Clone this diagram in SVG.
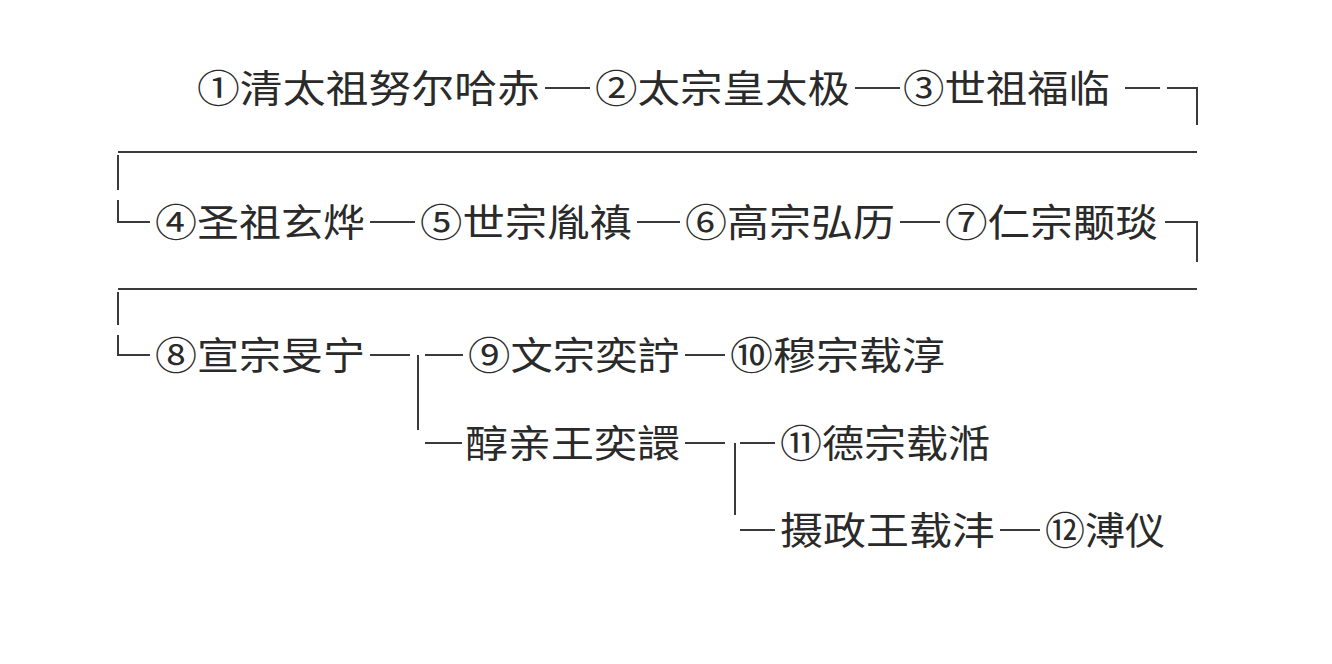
<svg xmlns="http://www.w3.org/2000/svg" width="1332" height="664" viewBox="0 0 1332 664">
<style>
text{font-family:"Noto Sans CJK SC","Noto Sans CJK JP",sans-serif;font-size:38px;fill:#2a2a2a}
.c line,.c path{stroke:#3a3a3a;stroke-width:2;fill:none}
</style>
<rect width="1332" height="664" fill="#fff"/>
<g id="n1"><text x="197" y="102" textLength="343" lengthAdjust="spacingAndGlyphs">①清太祖努尔哈赤</text></g>
<g id="n2"><text x="595" y="102" textLength="255" lengthAdjust="spacingAndGlyphs">②太宗皇太极</text></g>
<g id="n3"><text x="903" y="102" textLength="207" lengthAdjust="spacingAndGlyphs">③世祖福临</text></g>
<g id="n4"><text x="155" y="236" textLength="210" lengthAdjust="spacingAndGlyphs">④圣祖玄烨</text></g>
<g id="n5"><text x="420" y="236" textLength="212" lengthAdjust="spacingAndGlyphs">⑤世宗胤禛</text></g>
<g id="n6"><text x="685" y="236" textLength="210" lengthAdjust="spacingAndGlyphs">⑥高宗弘历</text></g>
<g id="n7"><text x="945" y="236" textLength="213" lengthAdjust="spacingAndGlyphs">⑦仁宗颙琰</text></g>
<g id="n8"><text x="155" y="369" textLength="210" lengthAdjust="spacingAndGlyphs">⑧宣宗旻宁</text></g>
<g id="n9"><text x="468" y="369" textLength="212" lengthAdjust="spacingAndGlyphs">⑨文宗奕詝</text></g>
<g id="n10"><text x="730" y="369" textLength="215" lengthAdjust="spacingAndGlyphs">⑩穆宗载淳</text></g>
<g id="n11"><text x="465" y="457" textLength="215" lengthAdjust="spacingAndGlyphs">醇亲王奕譞</text></g>
<g id="n12"><text x="780" y="457" textLength="210" lengthAdjust="spacingAndGlyphs">⑪德宗载湉</text></g>
<g id="n13"><text x="780" y="544" textLength="215" lengthAdjust="spacingAndGlyphs">摄政王载沣</text></g>
<g id="n14"><text x="1045" y="544" textLength="120" lengthAdjust="spacingAndGlyphs">⑫溥仪</text></g>
<g class="c" id="connectors">
<line x1="545" y1="88" x2="590" y2="88"/>
<line x1="855" y1="88" x2="900" y2="88"/>
<line x1="1125" y1="88" x2="1160" y2="88"/>
<path d="M1167 88H1197V125"/>
<line x1="118" y1="152" x2="1197" y2="152"/>
<line x1="118" y1="155" x2="118" y2="190"/>
<path d="M118 200V222H150"/>
<line x1="370" y1="222" x2="415" y2="222"/>
<line x1="637" y1="222" x2="680" y2="222"/>
<line x1="900" y1="222" x2="940" y2="222"/>
<path d="M1165 222H1197V262"/>
<line x1="118" y1="289" x2="1197" y2="289"/>
<line x1="118" y1="292" x2="118" y2="325"/>
<path d="M118 335V355H150"/>
<line x1="370" y1="355" x2="410" y2="355"/>
<line x1="418" y1="355" x2="418" y2="430"/>
<line x1="425" y1="355" x2="463" y2="355"/>
<line x1="685" y1="355" x2="725" y2="355"/>
<line x1="425" y1="443" x2="462" y2="443"/>
<line x1="685" y1="443" x2="725" y2="443"/>
<line x1="735" y1="443" x2="735" y2="515"/>
<line x1="740" y1="443" x2="775" y2="443"/>
<line x1="740" y1="530" x2="775" y2="530"/>
<line x1="1000" y1="530" x2="1040" y2="530"/>
</g>
</svg>
